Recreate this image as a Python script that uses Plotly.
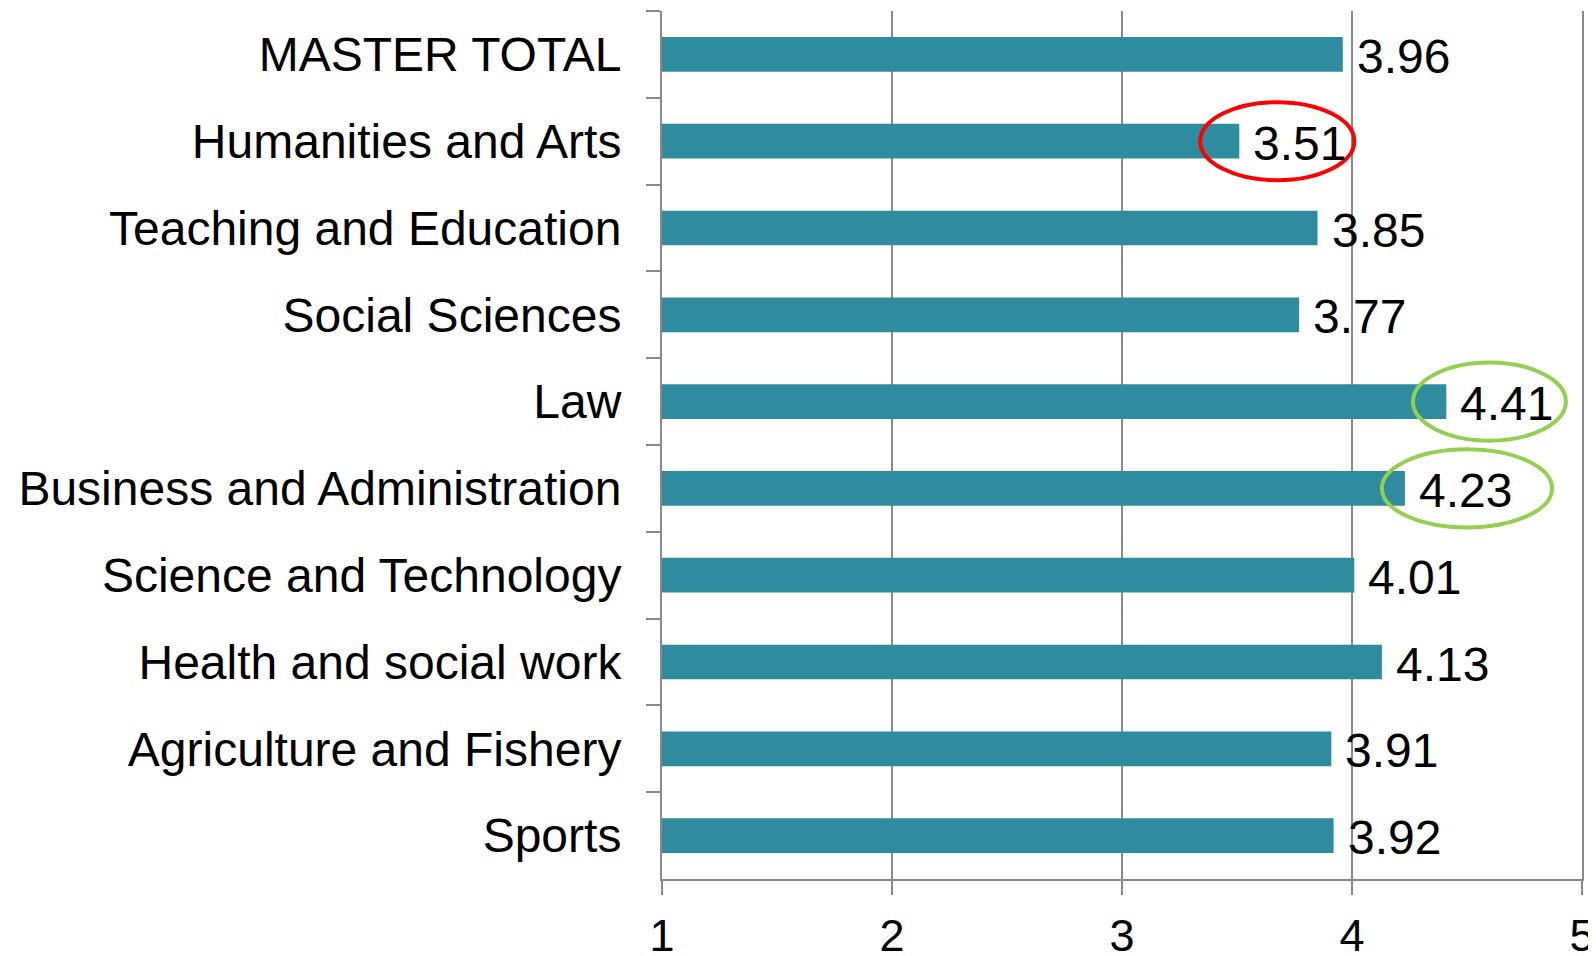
import plotly.graph_objects as go

categories = [
    "MASTER TOTAL",
    "Humanities and Arts",
    "Teaching and Education",
    "Social Sciences",
    "Law",
    "Business and Administration",
    "Science and Technology",
    "Health and social work",
    "Agriculture and Fishery",
    "Sports",
]
values = [3.96, 3.51, 3.85, 3.77, 4.41, 4.23, 4.01, 4.13, 3.91, 3.92]
value_labels = ["3.96", "3.51", "3.85", "3.77", "4.41", "4.23", "4.01", "4.13", "3.91", "3.92"]
x_ticks = [1, 2, 3, 4, 5]

# highlighted value labels: category, outline colour, left/right extent relative to bar value
highlights = [
    ("Humanities and Arts", "#FF0000", -0.17, 0.50),
    ("Law", "#92D050", -0.145, 0.52),
    ("Business and Administration", "#92D050", -0.10, 0.64),
]

BAR_COLOR = "#2E8C9E"
GRID = "#8a8a8a"
FONT = "Liberation Sans, Arial, sans-serif"

fig = go.Figure()
fig.add_trace(go.Bar(
    x=values,
    y=categories,
    orientation="h",
    marker=dict(color=BAR_COLOR, line=dict(width=0)),
    width=0.4,
    hoverinfo="skip",
))

annotations = []
for c, v, t in zip(categories, values, value_labels):
    annotations.append(dict(
        x=v, y=c, xref="x", yref="y", text=t, showarrow=False,
        xanchor="left", yanchor="middle", xshift=12, yshift=-2,
        font=dict(family=FONT, size=48, color="black"),
    ))

shapes = []
for cat, col, lo, hi in highlights:
    i = categories.index(cat)
    v = values[i]
    shapes.append(dict(
        type="circle", xref="x", yref="y",
        x0=v + lo, x1=v + hi, y0=i - 0.45, y1=i + 0.45,
        line=dict(color=col, width=4), layer="above",
    ))

# page body has an 8px margin, so the figure is placed at (8, 8)
fig.update_layout(
    width=1588, height=948,
    margin=dict(l=654, r=14, t=3, b=77),
    paper_bgcolor="white", plot_bgcolor="white",
    showlegend=False,
    annotations=annotations,
    shapes=shapes,
    font=dict(family=FONT, color="black"),
    bargap=0.6,
)
fig.update_xaxes(
    range=[1, 5], tickvals=x_ticks, ticktext=[str(t) for t in x_ticks],
    showgrid=True, gridcolor=GRID, gridwidth=2,
    showline=True, linecolor=GRID, linewidth=2,
    ticks="outside", ticklen=14, tickwidth=2, tickcolor=GRID,
    zeroline=False, tickfont=dict(size=45, family=FONT, color="black"),
    ticklabelstandoff=2, automargin=False,
)
fig.update_yaxes(
    categoryorder="array", categoryarray=categories, autorange="reversed",
    showgrid=False, showline=True, mirror=True, linecolor=GRID, linewidth=2,
    ticks="outside", tickson="boundaries", ticklen=14, tickwidth=2, tickcolor=GRID,
    tickfont=dict(size=48, family=FONT, color="black"),
    ticklabelstandoff=29, automargin=False,
)

fig.write_html("out.html")
